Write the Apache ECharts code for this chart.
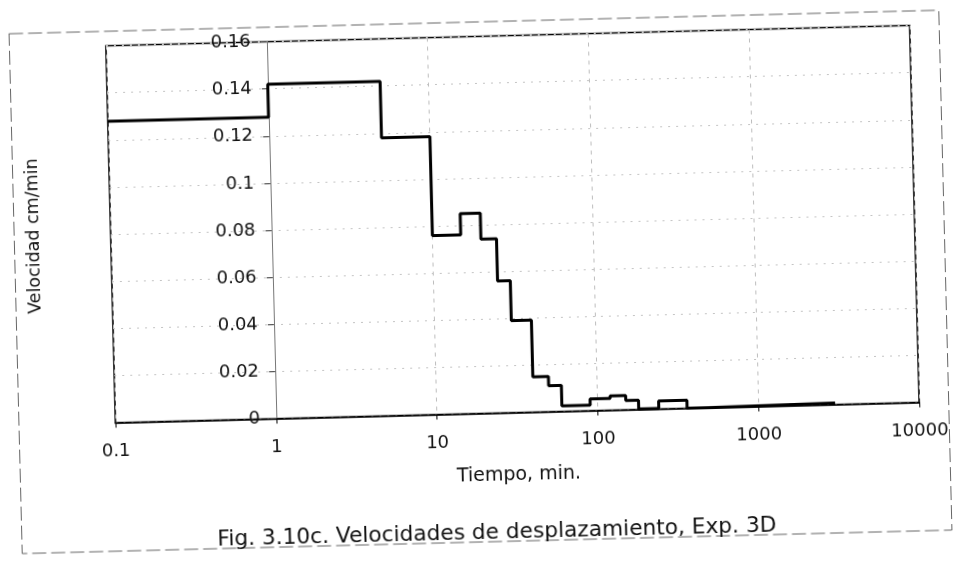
<!DOCTYPE html>
<html><head><meta charset="utf-8">
<script src="https://cdn.jsdelivr.net/npm/echarts@6/dist/echarts.min.js"></script>
<style>
html,body{margin:0;padding:0;background:#fff;overflow:hidden;}
#wrap{position:absolute;left:0;top:0;width:954px;height:564px;transform:rotate(-1.45deg);transform-origin:477px 282px;}
#chart{width:954px;height:564px;}
</style></head><body>
<div id="wrap"><div id="chart"></div></div>
<script>
// Step boundaries (time, min) and the velocity that starts at each boundary
const timeMin  = [0.1,   1,     5,     10,    15,    20,    25,    30,    40,    50,    60,     90,    120,   150,    180,    240,    360, 480,    3000];
const velocity = [0.128, 0.142, 0.118, 0.076, 0.085, 0.074, 0.056, 0.039, 0.015, 0.011, 0.0023, 0.005, 0.006, 0.0039, 0.0002, 0.0034, 0,   0.0006, 0.0006];
const xTickLabels = ['0.1', '1', '10', '100', '1000', '10000'];
const yTickLabels = ['0', '0.02', '0.04', '0.06', '0.08', '0.1', '0.12', '0.14', '0.16'];
const xAxisTitle = 'Tiempo, min.';
const yAxisTitle = 'Velocidad cm/min';
const caption = 'Fig. 3.10c. Velocidades de desplazamiento, Exp. 3D';

const W = 954, H = 564;
const gridLeft = 112, gridRight = 38, gridTop = 36.5, gridBottom = 150.5;
const xMin = 0.1, xMax = 10000, yCross = 1;
const plotW = W - gridLeft - gridRight;
const yAxisOffset = -plotW * (Math.log10(yCross) - Math.log10(xMin)) / (Math.log10(xMax) - Math.log10(xMin));
const FONT = 'DejaVu Sans';

const chart = echarts.init(document.getElementById('chart'), null, {renderer: 'canvas'});
chart.setOption({
  backgroundColor: '#ffffff',
  animation: false,
  title: {
    text: caption,
    left: 206, top: 517,
    textStyle: {fontFamily: FONT, fontSize: 21.7, fontWeight: 'normal', color: '#111'}
  },
  graphic: [{
    type: 'rect', silent: true, z: -1,
    shape: {x: 15.5, y: 22, width: 930, height: 520},
    style: {fill: 'none', stroke: '#666', lineWidth: 1, lineDash: [14, 5]}
  }],
  grid: {left: gridLeft, right: gridRight, top: gridTop, bottom: gridBottom,
         show: true, borderColor: '#000', borderWidth: 1.6, backgroundColor: 'transparent'},
  xAxis: {
    type: 'log', logBase: 10, min: xMin, max: xMax,
    name: xAxisTitle, nameLocation: 'middle', nameGap: 53,
    nameTextStyle: {fontFamily: FONT, fontSize: 19, color: '#111'},
    axisLine: {show: true, lineStyle: {color: '#000', width: 1.6}},
    axisTick: {show: true, inside: false, length: 5, lineStyle: {color: '#000'}},
    minorTick: {show: false},
    axisLabel: {fontFamily: FONT, fontSize: 18, color: '#111', margin: 20,
      formatter: v => xTickLabels[Math.round(Math.log10(v) - Math.log10(xMin))] ?? ''},
    splitLine: {show: true, lineStyle: {color: '#bdbdbd', width: 1, type: [4, 5]}}
  },
  yAxis: {
    type: 'value', min: 0, max: 0.16, interval: 0.02,
    position: 'left', offset: yAxisOffset,
    name: yAxisTitle, nameLocation: 'middle', nameGap: 228, nameRotate: 90,
    nameTextStyle: {fontFamily: FONT, fontSize: 17.5, color: '#111'},
    axisLine: {show: true, onZero: false, lineStyle: {color: '#777', width: 1}},
    axisTick: {show: true, inside: false, length: 6, lineStyle: {color: '#333'}},
    axisLabel: {fontFamily: FONT, fontSize: 18, color: '#111', margin: 16,
      formatter: (v) => yTickLabels[Math.round(v / 0.02)] ?? ''},
    splitLine: {show: true, lineStyle: {color: '#c4c4c4', width: 1, type: [2, 6]}}
  },
  series: [{
    type: 'line', step: 'end', showSymbol: false, symbol: 'none',
    data: timeMin.map((t, i) => [t, velocity[i]]),
    lineStyle: {color: '#000', width: 3},
    z: 5
  }]
});
</script>
</body></html>
